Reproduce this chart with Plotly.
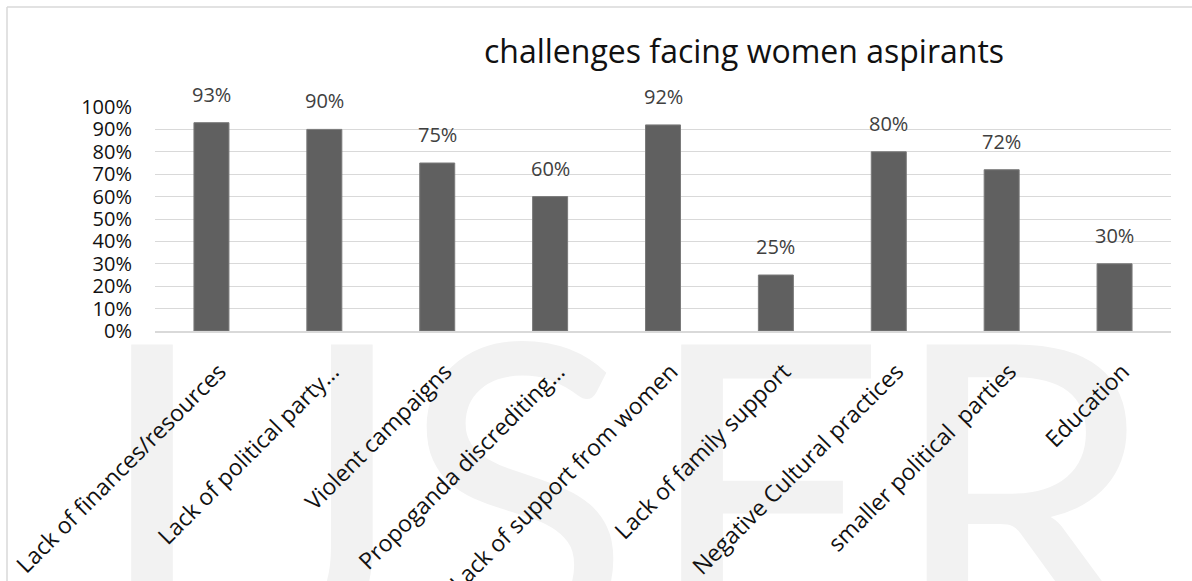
import plotly.graph_objects as go

categories = [
    "Lack of finances/resources",
    "Lack of political party…",
    "Violent campaigns",
    "Propoganda discrediting…",
    "Lack of support from women",
    "Lack of family support",
    "Negative Cultural practices",
    "smaller political  parties",
    "Education",
]
values = [0.93, 0.90, 0.75, 0.60, 0.92, 0.25, 0.80, 0.72, 0.30]
y_ticks = [i / 10 for i in range(11)]
title_text = "challenges facing women aspirants"
watermark_letters = ["I", "J", "S", "E", "R"]

W, H = 1192, 581
L, R, T, B = 155, 21, 107, 250   # plot area edges (pixels from figure sides)
FONT = "Open Sans"

fig = go.Figure()

# decorative watermark on a background subplot (drawn first, below everything)
wm_x = [152, 318, 516, 766, 1022]
wm_y = [545] * 5
fig.add_trace(go.Scatter(
    x=wm_x, y=wm_y, text=watermark_letters, mode="text",
    textposition="middle center",
    textfont=dict(family="Lato", size=430, color="#f2f2f2"),
    xaxis="x", yaxis="y", cliponaxis=False, showlegend=False, hoverinfo="skip",
))

fig.add_trace(go.Bar(
    x=categories, y=values,
    marker=dict(color="#606060", line=dict(color="#7a7a7a", width=1)),
    xaxis="x2", yaxis="y2",
    showlegend=False, hoverinfo="skip",
))

for c, v in zip(categories, values):
    fig.add_annotation(
        x=c, y=v, xref="x2", yref="y2", text=f"{round(v*100)}%", showarrow=False,
        yanchor="bottom", yshift=13,
        font=dict(family=FONT, size=20, color="#404040"),
    )

fig.add_shape(type="line", xref="paper", yref="paper",
              x0=7 / W, x1=1.01, y0=1 - 7 / H, y1=1 - 7 / H,
              line=dict(color="#d9d9d9", width=1.5))
fig.add_shape(type="line", xref="paper", yref="paper",
              x0=7 / W, x1=7 / W, y0=-0.01, y1=1 - 7 / H,
              line=dict(color="#d9d9d9", width=1.5))

fig.update_layout(
    width=W, height=H,
    margin=dict(l=0, r=0, t=0, b=0, autoexpand=False),
    paper_bgcolor="white", plot_bgcolor="rgba(0,0,0,0)",
    bargap=0.69,
    hovermode=False,
    font=dict(family=FONT, color="#111111"),
    title=dict(text=title_text, xref="container", x=744 / W, xanchor="center",
               yref="container", y=1 - 52 / H, yanchor="middle",
               font=dict(family=FONT, size=32, color="#111111")),
    xaxis=dict(domain=[0, 1], range=[0, W], visible=False, fixedrange=True),
    yaxis=dict(domain=[0, 1], range=[H, 0], visible=False, fixedrange=True),
    xaxis2=dict(
        domain=[L / W, (W - R) / W], anchor="y2",
        type="category", tickangle=-45, showgrid=False,
        showline=True, linecolor="#d9d9d9", linewidth=2,
        ticks="", ticklabelstandoff=16, ticklabelshift=8, automargin=False,
        tickfont=dict(family=FONT, size=23, color="#111111"),
    ),
    yaxis2=dict(
        domain=[B / H, (H - T) / H], anchor="x2",
        range=[0, 1.0], tickvals=y_ticks, tickformat=".0%",
        showgrid=True, gridcolor="#d9d9d9", gridwidth=1.3,
        zeroline=False, showline=False, ticks="",
        ticklabelstandoff=22, automargin=False,
        tickfont=dict(family=FONT, size=20, color="#111111"),
    ),
)

fig.write_html("out.html")
